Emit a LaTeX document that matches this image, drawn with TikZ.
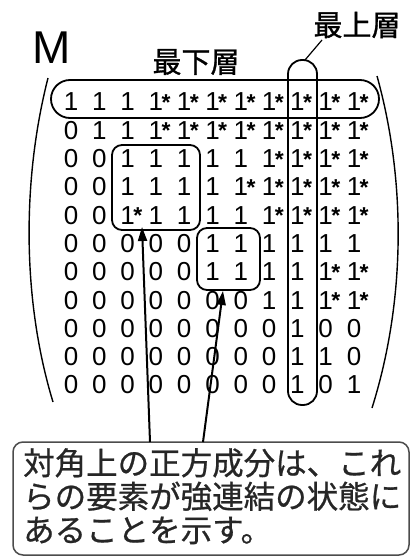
\documentclass[tikz,border=0pt]{standalone}
\usepackage{fontspec}
\setmainfont{Liberation Sans}
\newfontfamily\cjk{Noto Sans CJK JP}[FakeBold=1]
\newfontfamily\cjkt{Noto Sans CJK JP}[FakeBold=0.7]
\usetikzlibrary{arrows.meta}
\newcommand\st{1\rlap{\kern-1.5pt\raisebox{0.5pt}{\fontsize{23}{23}\selectfont\bfseries *}}}
\tikzset{
  cell/.style={inner sep=0pt, font=\fontsize{26}{26}\selectfont},
  blk/.style={draw=black, line width=1.8pt, rounded corners=10pt, inner sep=0pt},
  lbl/.style={font=\cjk\fontsize{29}{29}\selectfont, inner sep=0pt},
  arr/.style={line width=2pt, -{Triangle[length=14pt,width=9pt]}},
  paren/.style={line width=1.4pt},
}
\begin{document}
\begin{tikzpicture}[x=1pt,y=-1pt]
\useasboundingbox (0,0) rectangle (411,557);
% matrix entries
\foreach \row [count=\i from 0] in {
  {1,1,1,\st,\st,\st,\st,\st,\st,\st,\st},
  {0,1,1,\st,\st,\st,\st,\st,\st,\st,\st},
  {0,0,1,1,1,1,1,\st,\st,\st,\st},
  {0,0,1,1,1,1,\st,\st,\st,\st,\st},
  {0,0,\st,1,1,1,1,\st,\st,\st,\st},
  {0,0,0,0,0,1,1,1,1,1,1},
  {0,0,0,0,0,1,1,1,1,\st,\st},
  {0,0,0,0,0,0,0,1,1,\st,\st},
  {0,0,0,0,0,0,0,0,1,0,0},
  {0,0,0,0,0,0,0,0,1,1,0},
  {0,0,0,0,0,0,0,0,1,0,1}}{
  \foreach \v [count=\j from 0] in \row {
    \node[cell] (c-\i-\j) at ({71+28.3*\j},{102+28.3*\i}) {\v};
  }
}
% label M
\node[inner sep=0pt, font=\fontsize{46}{46}\selectfont] (M) at (52,48) {M};
% parentheses
\draw[paren] (48,78) .. controls (22,180) and (22,300) .. (53,402);
\draw[paren] (377,76) .. controls (406,180) and (406,300) .. (372,408);
% boxes
\node[blk, rounded corners=19pt, minimum width=328pt, minimum height=38pt] (rowbox) at (215,99) {};
\node[blk, rounded corners=14pt, minimum width=29pt, minimum height=345pt] (vbox) at (302.5,232.5) {};
\node[blk, minimum width=88pt, minimum height=85pt] (box1) at (156,187.5) {};
\node[blk, minimum width=63pt, minimum height=62pt] (box2) at (228.5,259) {};
% labels
\node[lbl] (lbot) at (196,62) {最下層};
\node[lbl] (ltop) at (357,25) {最上層};
\coordinate (lt) at (322,40);
\coordinate (vt) at (305,60);
\draw[line width=1.2pt] (vt) -- (lt);
% text box
\node[draw=black!70, line width=1.5pt, rounded corners=10pt, minimum width=396pt, minimum height=113pt, inner sep=0pt] (txt) at (211,498.5) {};
\node[anchor=north west, inner sep=0pt, align=left, font=\cjkt\fontsize{31.5}{33.5}\selectfont, text=black!85] (txtlines) at (23,448) {対角上の正方成分は、これ\\らの要素が強連結の状態に\\あることを示す。};
% arrows
\coordinate (s1) at (150,442);
\coordinate (s2) at (203,442);
\coordinate (e1) at (142,227);
\coordinate (e2) at (223,291);
\draw[arr] (s1) -- (e1);
\draw[arr] (s2) -- (e2);
\end{tikzpicture}
\end{document}
